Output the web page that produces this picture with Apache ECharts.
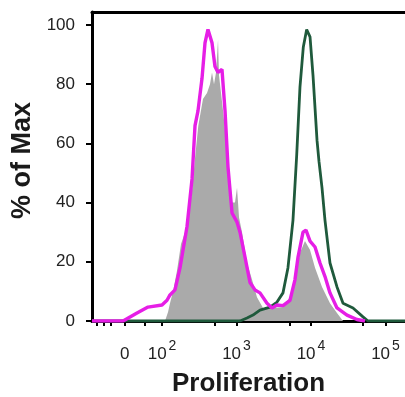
<!DOCTYPE html>
<html>
<head>
<meta charset="utf-8">
<script src="https://cdn.jsdelivr.net/npm/echarts@6/dist/echarts.min.js"></script>
<style>
html,body{margin:0;padding:0;background:#fff;}
#c{width:405px;height:397px;}
</style>
</head>
<body>
<div id="c"></div>
<script>
// x positions are in display units of the biexponential axis: 2 = 10^2, 3 = 10^3, ... ; 1.5 = 0
const shadedHist = [
  [2.040,0],[2.081,3],[2.107,6],[2.148,10],[2.201,17],[2.255,26],[2.309,30],[2.399,43],[2.443,55],
  [2.487,66],[2.550,75],[2.604,77],[2.644,80],[2.671,84],[2.698,80],[2.725,84],[2.752,95],[2.765,83],
  [2.819,71],[2.872,58],[2.936,40],[2.980,40],[3.007,45],[3.034,35],[3.074,30],[3.141,19.6],[3.208,14],
  [3.275,8],[3.356,4.4],[3.490,4.4],[3.624,4.7],[3.758,9.5],[3.852,23],[3.919,27],[3.987,24],[4.054,18],
  [4.148,11.5],[4.255,6],[4.349,2.7],[4.430,0]
];
const magentaHist = [
  [1.060,0],[1.477,0],[1.664,2.7],[1.812,4.7],[2.000,5.4],[2.067,7],[2.107,8.8],[2.174,10.5],[2.242,18],
  [2.336,32],[2.403,48],[2.443,66],[2.483,71],[2.537,82],[2.577,94],[2.617,98.5],[2.671,94],[2.711,86],
  [2.752,84],[2.805,85],[2.846,71],[2.886,52],[2.940,36.5],[3.007,33.4],[3.047,30],[3.114,21.6],[3.181,13],
  [3.248,10.5],[3.315,9.5],[3.409,6],[3.477,4.4],[3.544,5.4],[3.624,5.2],[3.718,7],[3.785,14],[3.826,21.6],
  [3.893,30],[3.933,30.7],[3.987,27],[4.054,25],[4.121,19.6],[4.188,15],[4.255,9.5],[4.349,4.4],[4.483,2],
  [4.617,0.5],[4.725,0]
];
const greenHist = [
  [1.060,0],[3.047,0],[3.141,1],[3.221,2],[3.315,3.7],[3.450,4.7],[3.544,6.4],[3.624,9.5],[3.691,18],
  [3.758,34],[3.808,56],[3.852,79],[3.897,92.6],[3.942,98.5],[3.987,96],[4.027,83],[4.081,61],[4.107,54],
  [4.148,45],[4.188,34],[4.255,19.6],[4.349,11.5],[4.430,6],[4.564,4.4],[4.698,1.4],[4.765,0],[5.262,0]
];
const xLabelValues = [1.5, 2, 3, 4, 5];
const xLabelTexts = ['0', '2', '3', '4', '5'];   // '0' plain, others are exponents of 10
const xTickValues = [1.12, 1.22, 1.31, 1.5, 1.77, 2, 2.71, 3, 3.72, 4, 4.70, 5];
const yTickValues = [0, 20, 40, 60, 80, 100];

const X_MIN = 1.06, X_MAX = 5.262;
const chart = echarts.init(document.getElementById('c'), null, {renderer: 'canvas'});
const FONT = 'Liberation Sans, Arial, sans-serif';
const option = {
  animation: false,
  backgroundColor: '#ffffff',
  grid: {left: 92, right: 0, top: 12, bottom: 76, containLabel: false, outerBoundsMode: 'none'},
  xAxis: [{
    type: 'value', min: X_MIN, max: X_MAX, position: 'bottom',
    name: 'Proliferation', nameLocation: 'middle', nameGap: 50,
    nameTextStyle: {fontFamily: FONT, fontSize: 26, fontWeight: 'bold', color: '#1a1a1a', verticalAlign: 'top'},
    axisLine: {show: true, onZero: false, lineStyle: {color: '#000', width: 3}},
    axisTick: {show: true, inside: false, length: 5, lineStyle: {color: '#000', width: 2}, customValues: xTickValues},
    splitLine: {show: false},
    axisLabel: {
      show: true, margin: 18, customValues: xLabelValues,
      formatter: function (v) {
        const i = xLabelValues.findIndex(function (x) { return Math.abs(x - v) < 1e-6; });
        const t = i >= 0 ? xLabelTexts[i] : '';
        if (t === '0') return '{s| }{b|0}{s| }';
        return '{b|10}{s|' + t + '}';
      },
      rich: {
        b: {fontFamily: FONT, fontSize: 17, color: '#222'},
        s: {fontFamily: FONT, fontSize: 14, color: '#222', padding: [0, 0, 16, 2]}
      }
    }
  }, {
    type: 'value', min: X_MIN, max: X_MAX, position: 'top',
    axisLine: {show: true, onZero: false, lineStyle: {color: '#000', width: 3}},
    axisTick: {show: false}, axisLabel: {show: false}, splitLine: {show: false}
  }],
  yAxis: {
    type: 'value', min: 0, max: 104.4,
    name: '% of Max', nameLocation: 'middle', nameGap: 55, nameRotate: 90,
    nameTextStyle: {fontFamily: FONT, fontSize: 27, fontWeight: 'bold', color: '#1a1a1a', padding: [0, 0, 0, 12]},
    axisLine: {show: true, onZero: false, lineStyle: {color: '#000', width: 3}},
    axisTick: {show: true, inside: false, length: 6, lineStyle: {color: '#000', width: 2}, customValues: yTickValues},
    axisLabel: {show: true, margin: 17, customValues: yTickValues, fontFamily: FONT, fontSize: 17, color: '#222'},
    splitLine: {show: false}
  },
  series: [
    {
      type: 'line', name: 'control', data: shadedHist, xAxisIndex: 0, showSymbol: false, symbol: 'none',
      lineStyle: {width: 0, color: '#aaaaaa'}, areaStyle: {color: '#aaaaaa', opacity: 1}, z: 2
    },
    {
      type: 'line', name: 'green', data: greenHist, xAxisIndex: 0, showSymbol: false, symbol: 'none',
      lineStyle: {width: 2.8, color: '#1f5a3c'}, z: 3
    },
    {
      type: 'line', name: 'magenta', data: magentaHist, xAxisIndex: 0, showSymbol: false, symbol: 'none',
      lineStyle: {width: 3.4, color: '#e61ee6'}, z: 4
    }
  ]
};
chart.setOption(option);
</script>
</body>
</html>
